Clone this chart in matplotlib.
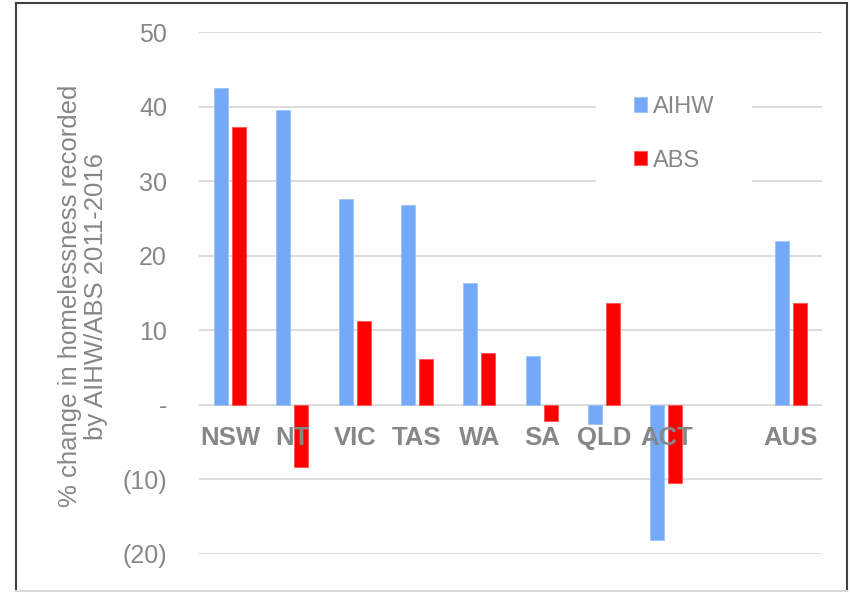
import numpy as np
import matplotlib
matplotlib.use("Agg")
import matplotlib.pyplot as plt
from matplotlib.ticker import FuncFormatter
from matplotlib.lines import Line2D

# datos (hueco vacio entre ACT y AUS)
categories = ['NSW', 'NT', 'VIC', 'TAS', 'WA', 'SA', 'QLD', 'ACT', '', 'AUS']
aihw = [42.5, 39.6, 27.6, 26.8, 16.3, 6.5, -2.5, -18.1, np.nan, 22.0]
abs_ = [37.3, -8.3, 11.3, 6.2, 7.0, -2.2, 13.7, -10.5, np.nan, 13.6]
yticks = [-20, -10, 0, 10, 20, 30, 40, 50]

plt.rcParams['font.family'] = ['Liberation Sans', 'DejaVu Sans']
gris = '#878787'
azul = '#74A9F7'
rojo = '#FF0000'

fig = plt.figure(figsize=(8.52, 5.92), dpi=100)
ax = fig.add_axes([199/852, 38/592, 623/852, 522/592])

x = np.arange(len(categories))
w = 0.225
ax.bar(x - 0.145, aihw, w, color=azul, edgecolor='#9DC2F9', linewidth=0.6, label='AIHW')
ax.bar(x + 0.145, abs_, w, color=rojo, edgecolor='#FF5050', linewidth=0.6, label='ABS')

ax.set_xlim(-0.5, len(categories) - 0.5)
ax.set_ylim(-20, 50)
ax.set_yticks(yticks)

def fmt(v, pos):
    if v == 0:
        return '-'
    if v < 0:
        return '(%d)' % abs(v)
    return '%d' % v

ax.yaxis.set_major_formatter(FuncFormatter(fmt))
ax.yaxis.grid(True, color='#D9D9D9', linewidth=1.3)
ax.set_axisbelow(True)

ax.set_xticks([])
for s in ['top', 'right', 'left', 'bottom']:
    ax.spines[s].set_visible(False)
ax.tick_params(axis='y', length=0, pad=23, labelsize=18, labelcolor=gris)

# etiquetas de categoria encima de las barras, justo bajo el cero
for xi, c in zip(x, categories):
    ax.annotate(c, (xi, 0), xytext=(0, -15), textcoords='offset points',
                ha='center', va='top', fontsize=18.5, fontweight='bold',
                color=gris, zorder=5)

fig.text(83/852, 0.5 + 0/592, '% change in homelessness recorded\nby AIHW/ABS 2011-2016',
         rotation=90, ha='center', va='center', multialignment='center',
         fontsize=18.5, color=gris, linespacing=1.15)

leg = ax.legend(loc='upper left', bbox_to_anchor=(596/852, 1 - 58/592),
                bbox_transform=fig.transFigure, borderaxespad=0, fontsize=17,
                frameon=True, facecolor='white', edgecolor='none', framealpha=1,
                handlelength=0.55, handleheight=0.55, handletextpad=0.25,
                labelspacing=1.35, borderpad=1.6, fancybox=False)
for t in leg.get_texts():
    t.set_color(gris)

# marco del grafico
l, r, t, b = 16/852, 847/852, 1 - 3/592, 1 - 591/592
fig.add_artist(Line2D([l, r], [t, t], color='#404040', lw=1.5, transform=fig.transFigure))
fig.add_artist(Line2D([l, l], [b, t], color='#404040', lw=1.5, transform=fig.transFigure))
fig.add_artist(Line2D([r, r], [b, t], color='#404040', lw=1.5, transform=fig.transFigure))
fig.add_artist(Line2D([l, r], [b, b], color='#D9D9D9', lw=1.5, transform=fig.transFigure))

fig.savefig('out.png', dpi=100)
